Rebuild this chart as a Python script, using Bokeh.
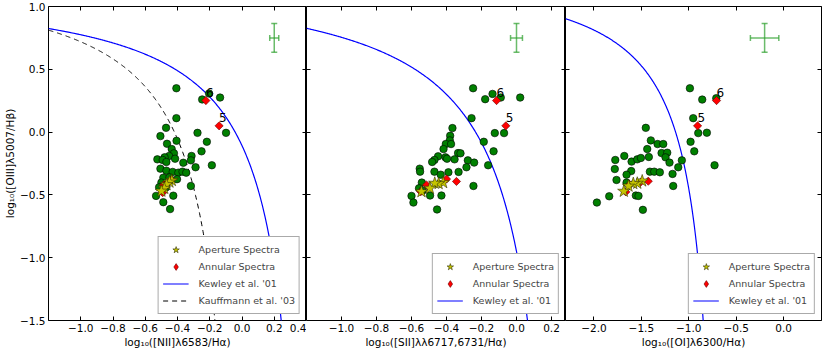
import numpy as np
from bokeh.plotting import figure
from bokeh.layouts import row
from bokeh.models import (FixedTicker, LinearAxis, Range1d, Legend, LegendItem,
                          ColumnDataSource, Whisker, TeeHead)
from bokeh.embed import file_html
from bokeh.resources import INLINE
from bokeh.core.properties import value

FONT = "DejaVu Sans"
NAN = float("nan")

# ---------------- axis ticks ----------------
y_ticks = [-1.5, -1.0, -0.5, 0.0, 0.5, 1.0]
y_tick_labels = ["\u22121.5", "\u22121.0", "\u22120.5", "0.0", "0.5", "1.0"]
nii_ticks = [-1.0, -0.8, -0.6, -0.4, -0.2, 0.0, 0.2, 0.4]
nii_tick_labels = ["\u22121.0", "\u22120.8", "\u22120.6", "\u22120.4", "\u22120.2", "0.0", "0.2", "0.4"]
sii_ticks = [-1.0, -0.8, -0.6, -0.4, -0.2, 0.0, 0.2]
sii_tick_labels = ["\u22121.0", "\u22120.8", "\u22120.6", "\u22120.4", "\u22120.2", "0.0", "0.2"]
oi_ticks = [-2.0, -1.5, -1.0, -0.5, 0.0]
oi_tick_labels = ["\u22122.0", "\u22121.5", "\u22121.0", "\u22120.5", "0.0"]

nii_xlim = (-1.2, 0.4)
sii_xlim = (-1.2, 0.28)
oi_xlim = (-2.3, 0.4)
y_lim = (-1.5, 1.0)

# ---------------- demarcation curves: y = a/(x - b) + c ----------------
kewley01_nii = (0.61, 0.47, 1.19)
kauffmann03_nii = (0.61, 0.05, 1.30)
kewley01_sii = (0.72, 0.32, 1.30)
kewley01_oi = (0.73, -0.59, 1.33)

# ---------------- panel 1: [NII] ----------------
nii_green_x = [-0.407, -0.247, -0.204, -0.136, -0.407, -0.471, -0.506, -0.276, -0.099, -0.406,
               -0.465, -0.218, -0.436, -0.251, -0.422, -0.452, -0.480, -0.525, -0.415, -0.492,
               -0.313, -0.317, -0.364, -0.469, -0.288, -0.187, -0.506, -0.469, -0.430, -0.395,
               -0.369, -0.346, -0.488, -0.403, -0.500, -0.514, -0.317, -0.533, -0.426, -0.488,
               -0.446, -0.470, -0.450]
nii_green_y = [0.349, 0.260, 0.307, 0.275, 0.111, 0.034, -0.032, -0.006, -0.006, -0.069,
               -0.093, -0.077, -0.135, -0.153, -0.169, -0.190, -0.201, -0.217, -0.212, -0.222,
               -0.190, -0.225, -0.244, -0.238, -0.280, -0.264, -0.291, -0.307, -0.317, -0.323,
               -0.315, -0.323, -0.363, -0.375, -0.402, -0.439, -0.429, -0.508, -0.506, -0.558,
               -0.613, -0.440, -0.360]
nii_aperture_x = [-0.435, -0.450, -0.468, -0.482, -0.500]
nii_aperture_y = [-0.385, -0.398, -0.418, -0.448, -0.470]
nii_annular_x = [-0.492, -0.486, -0.463, -0.438, -0.142, -0.224]
nii_annular_y = [-0.482, -0.421, -0.405, -0.381, 0.050, 0.251]

# ---------------- panel 2: [SII] ----------------
sii_green_x = [-0.248, -0.179, -0.137, -0.090, 0.021, -0.257, -0.366, -0.379, -0.381, -0.404,
               -0.374, -0.417, -0.124, -0.071, -0.187, -0.131, -0.334, -0.320, -0.448, -0.406,
               -0.469, -0.482, -0.397, -0.354, -0.278, -0.242, -0.162, -0.286, -0.553, -0.551,
               -0.469, -0.389, -0.331, -0.433, -0.541, -0.557, -0.246, -0.600, -0.494, -0.429,
               -0.589, -0.454, -0.537]
sii_green_y = [0.349, 0.262, 0.304, 0.275, 0.275, 0.111, 0.032, -0.029, -0.066, -0.095,
               -0.095, -0.135, -0.008, -0.008, -0.077, -0.153, -0.167, -0.169, -0.193, -0.201,
               -0.222, -0.238, -0.212, -0.217, -0.225, -0.243, -0.264, -0.280, -0.291, -0.315,
               -0.315, -0.320, -0.317, -0.339, -0.402, -0.447, -0.429, -0.508, -0.505, -0.505,
               -0.561, -0.616, -0.466]
sii_aperture_x = [-0.419, -0.445, -0.467, -0.495, -0.543]
sii_aperture_y = [-0.402, -0.410, -0.407, -0.447, -0.474]
sii_annular_x = [-0.547, -0.514, -0.400, -0.343, -0.061, -0.114]
sii_annular_y = [-0.474, -0.421, -0.374, -0.393, 0.050, 0.251]

# ---------------- panel 3: [OI] ----------------
oi_green_x = [-0.988, -0.858, -0.710, -0.953, -0.900, -0.809, -1.453, -1.400, -1.329, -1.269,
              -1.438, -0.981, -0.942, -1.287, -1.227, -1.680, -1.775, -1.603, -1.543, -1.505,
              -1.421, -1.245, -1.203, -1.073, -1.111, -0.728, -1.780, -1.607, -1.410, -1.364,
              -1.305, -1.171, -1.656, -1.762, -1.656, -1.164, -1.839, -1.558, -1.530, -1.969,
              -1.484]
oi_green_y = [0.349, 0.259, 0.270, 0.111, -0.008, -0.005, 0.034, -0.066, -0.095, -0.095,
              -0.135, -0.077, -0.153, -0.167, -0.164, -0.190, -0.222, -0.235, -0.217, -0.206,
              -0.198, -0.201, -0.243, -0.225, -0.280, -0.264, -0.294, -0.310, -0.315, -0.315,
              -0.320, -0.333, -0.339, -0.381, -0.402, -0.429, -0.511, -0.505, -0.508, -0.561,
              -0.619]
oi_aperture_x = [-1.491, -1.543, -1.585, -1.635, -1.685]
oi_aperture_y = [-0.389, -0.407, -0.410, -0.430, -0.471]
oi_annular_x = [-1.664, -1.624, -1.510, -1.427, -0.907, -0.707]
oi_annular_y = [-0.476, -0.418, -0.400, -0.391, 0.050, 0.251]

annular_labels = ["", "", "", "", "5", "6"]

# ---------------- typical error bars ----------------
err_y = 0.75
err_yerr = 0.115
nii_err_x, nii_err_xerr = 0.2, 0.028
sii_err_x, sii_err_xerr = 0.0, 0.034
oi_err_x, oi_err_xerr = -0.2, 0.15

GREEN = "#008000"
ERR_GREEN = "#2ca02c"
STAR_YELLOW = "#c4c400"
BLUE = "#0000ff"
FIG_H = 350


def add_axis(p, side, ticks, labels=None, axis_label=None):
    ax = LinearAxis(ticker=FixedTicker(ticks=ticks, minor_ticks=[]),
                    major_tick_in=4, major_tick_out=0, minor_tick_in=0, minor_tick_out=0,
                    axis_line_color=None, major_tick_line_color="black")
    if labels is not None:
        ax.major_label_overrides = dict(zip(ticks, labels))
        ax.major_label_text_font = FONT
        ax.major_label_text_font_size = "10.5px"
        ax.major_label_text_color = "black"
        ax.major_label_standoff = 3
    else:
        ax.major_label_overrides = {t: "" for t in ticks}
        ax.major_label_text_font_size = "0px"
        ax.major_label_standoff = 0
    if axis_label is not None:
        ax.axis_label = axis_label
        ax.axis_label_text_font = FONT
        ax.axis_label_text_font_size = "10.5px"
        ax.axis_label_text_font_style = "normal"
        ax.axis_label_text_color = "black"
        ax.axis_label_standoff = 1
    p.add_layout(ax, side)


def curve(p, coeffs, x0, x1, **kw):
    a, b, c = coeffs
    xs = np.linspace(x0, x1, 400)
    ys = a / (xs - b) + c
    return p.line(xs, ys, **kw)


def make_panel(xlim, xticks, xlabels, xlabel, width, left_border, right_border, first,
               gx, gy, ax_, ay_, anx, any_, err_x, err_xerr, curves):
    p = figure(width=width, height=FIG_H, x_range=Range1d(*xlim), y_range=Range1d(*y_lim),
               output_backend="svg", toolbar_location=None,
               x_axis_location=None, y_axis_location=None,
               min_border_left=left_border, min_border_right=right_border,
               min_border_top=6, min_border_bottom=FIG_H - 321)
    p.xgrid.visible = False
    p.ygrid.visible = False
    p.outline_line_color = "black"
    p.outline_line_width = 1
    p.outline_line_alpha = 1
    p.background_fill_color = "white"
    p.border_fill_color = "white"

    add_axis(p, "below", xticks, xlabels, xlabel)
    add_axis(p, "above", xticks)
    if first:
        add_axis(p, "left", y_ticks, y_tick_labels,
                 "log\u2081\u2080([OIII]\u03bb5007/H\u03b2)")
    else:
        add_axis(p, "left", y_ticks)
    add_axis(p, "right", y_ticks)

    legend_lines = []
    for (coeffs, x0, x1, name, dash) in curves:
        if dash:
            kw = dict(line_color="black", line_width=1, line_dash="5 4")
        else:
            kw = dict(line_color=BLUE, line_width=1.2)
        curve(p, coeffs, x0, x1, **kw)
        # legend proxy (no visible mark)
        proxy = p.segment(x0=[NAN], y0=[NAN], x1=[NAN], y1=[NAN], **kw)
        legend_lines.append((name, proxy))

    p.scatter(gx, gy, marker="circle", size=7.5, fill_color=GREEN, line_color="black",
              line_width=0.6)
    p.scatter(anx, any_, marker="square", angle=np.pi / 4, size=5.8,
              fill_color="red", line_color="#660000", line_width=0.6)
    rs = p.scatter(ax_, ay_, marker="star", size=13, fill_color=STAR_YELLOW,
                   line_color="#333300", line_width=0.6)
    p.text(anx, any_, text=annular_labels, text_font=value(FONT), text_font_size="12px",
           text_align="left", text_baseline="bottom", x_offset=0, y_offset=-4,
           text_color="black")
    # legend proxy so the legend shows a diamond (no visible mark)
    rd = p.scatter(x=[NAN], y=[NAN], marker="diamond", fill_color="red",
                   line_color="#660000", line_width=0.6)

    src = ColumnDataSource(dict(x=[err_x], y=[err_y],
                                ylo=[err_y - err_yerr], yhi=[err_y + err_yerr],
                                xlo=[err_x - err_xerr], xhi=[err_x + err_xerr]))
    for dim, base, lo, hi in (("height", "x", "ylo", "yhi"), ("width", "y", "xlo", "xhi")):
        head_kw = dict(size=6, line_color=ERR_GREEN, line_alpha=0.7, line_width=1.5)
        w = Whisker(source=src, base=base, lower=lo, upper=hi, dimension=dim,
                    line_color=ERR_GREEN, line_alpha=0.7, line_width=1.5,
                    upper_head=TeeHead(**head_kw), lower_head=TeeHead(**head_kw))
        p.add_layout(w)

    items = [LegendItem(label="Aperture Spectra", renderers=[rs]),
             LegendItem(label="Annular Spectra", renderers=[rd])]
    for name, r in legend_lines:
        items.append(LegendItem(label=name, renderers=[r]))
    leg = Legend(items=items, location="bottom_right", margin=6, padding=4,
                 glyph_width=26, glyph_height=17, label_height=17, spacing=0,
                 label_standoff=10, label_text_font=FONT, label_text_font_size="9.5px",
                 border_line_color="#555555", border_line_width=1,
                 background_fill_color="white", background_fill_alpha=1)
    p.add_layout(leg)
    return p


p1 = make_panel(nii_xlim, nii_ticks, nii_tick_labels,
                "log\u2081\u2080([NII]\u03bb6583/H\u03b1)", 306, 48, 0, True,
                nii_green_x, nii_green_y, nii_aperture_x, nii_aperture_y,
                nii_annular_x, nii_annular_y, nii_err_x, nii_err_xerr,
                [(kewley01_nii, -1.2, 0.40, "Kewley et al. '01", False),
                 (kauffmann03_nii, -1.2, -0.12, "Kauffmann et al. '03", True)])
p2 = make_panel(sii_xlim, sii_ticks, sii_tick_labels,
                "log\u2081\u2080([SII]\u03bb\u03bb6717,6731/H\u03b1)", 259, 0, 0, False,
                sii_green_x, sii_green_y, sii_aperture_x, sii_aperture_y,
                sii_annular_x, sii_annular_y, sii_err_x, sii_err_xerr,
                [(kewley01_sii, -1.2, 0.25, "Kewley et al. '01", False)])
p3 = make_panel(oi_xlim, oi_ticks, oi_tick_labels,
                "log\u2081\u2080([OI]\u03bb6300/H\u03b1)", 257, 0, 1, False,
                oi_green_x, oi_green_y, oi_aperture_x, oi_aperture_y,
                oi_annular_x, oi_annular_y, oi_err_x, oi_err_xerr,
                [(kewley01_oi, -2.3, -0.62, "Kewley et al. '01", False)])

layout = row(p1, p2, p3, spacing=0)
open("out.html", "w").write(file_html(layout, INLINE))
